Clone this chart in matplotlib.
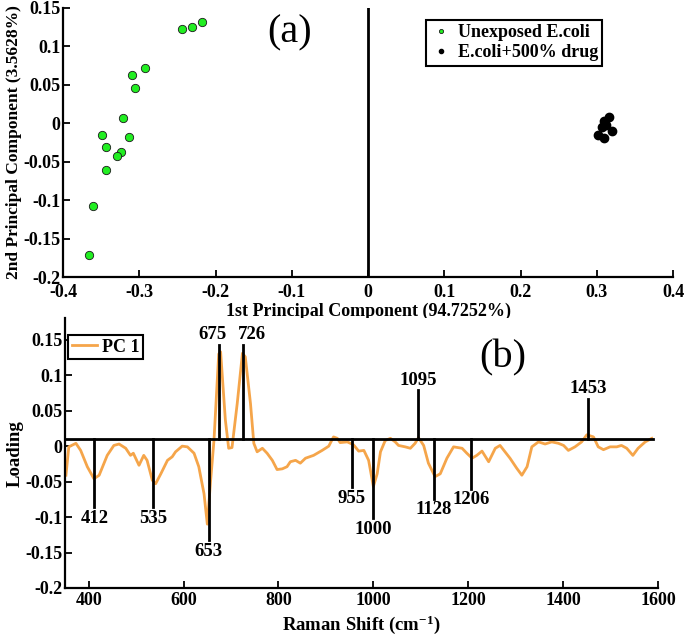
import matplotlib
matplotlib.use("Agg")
import matplotlib.pyplot as plt
import numpy as np

plt.rcParams['font.family'] = ['Liberation Serif', 'DejaVu Serif']
plt.rcParams['font.weight'] = 'bold'
plt.rcParams['mathtext.fontset'] = 'custom'
plt.rcParams['mathtext.rm'] = 'Liberation Serif:bold'
plt.rcParams['mathtext.default'] = 'rm'

# ---------------- data: (a) PCA scores ----------------
unexposed_pc1 = [-0.218, -0.231, -0.244, -0.293, -0.310, -0.306, -0.321, -0.349,
                 -0.314, -0.343, -0.324, -0.329, -0.343, -0.361, -0.366]
unexposed_pc2 = [0.131, 0.125, 0.122, 0.071, 0.062, 0.046, 0.007, -0.016,
                 -0.018, -0.031, -0.037, -0.043, -0.061, -0.108, -0.172]
drug_pc1 = [0.316, 0.309, 0.307, 0.320, 0.302, 0.309, 0.312]
drug_pc2 = [0.008, 0.002, -0.005, -0.011, -0.016, -0.020, -0.002]

# ---------------- data: (b) PC1 loading ----------------
raman_shift = [352, 358, 373, 383, 397, 411, 422, 439, 453, 464, 478, 488, 494, 506,
               516, 523, 534, 541, 552, 566, 576, 583, 597, 608, 622, 632, 643, 650,
               657, 664, 674, 678, 688, 695, 702, 713, 724, 730, 741, 748, 755, 766,
               776, 787, 797, 808, 818, 825, 836, 846, 857, 874, 892, 906, 916, 924,
               930, 945, 958, 969, 980, 990, 1000, 1008, 1015, 1025, 1036, 1046, 1053,
               1067, 1078, 1088, 1095, 1106, 1116, 1130, 1141, 1155, 1169, 1187, 1197,
               1208, 1218, 1229, 1243, 1257, 1267, 1288, 1302, 1313, 1324, 1334, 1348,
               1362, 1376, 1390, 1401, 1411, 1425, 1439, 1450, 1464, 1474, 1485, 1499,
               1513, 1523, 1534, 1547, 1558, 1573, 1587]
pc1_loading = [-0.041, -0.001, 0.004, -0.006, -0.029, -0.046, -0.041, -0.013, 0.001,
               0.003, -0.003, -0.013, -0.010, -0.027, -0.013, -0.020, -0.048, -0.053,
               -0.039, -0.020, -0.015, -0.008, 0.000, -0.001, -0.010, -0.029, -0.067,
               -0.110, -0.048, 0.008, 0.130, 0.133, 0.037, -0.003, -0.002, 0.060,
               0.131, 0.126, 0.060, 0.004, -0.008, -0.003, -0.010, -0.020, -0.033,
               -0.032, -0.029, -0.022, -0.020, -0.024, -0.017, -0.013, -0.006, 0.000,
               0.013, 0.011, 0.005, 0.006, 0.002, -0.007, -0.006, -0.020, -0.057,
               -0.039, -0.008, 0.008, 0.011, 0.006, 0.001, -0.001, -0.003, 0.004,
               0.012, 0.001, -0.024, -0.043, -0.039, -0.017, -0.001, -0.003, -0.010,
               -0.017, -0.013, -0.007, -0.022, -0.003, 0.001, -0.017, -0.031, -0.041,
               -0.029, -0.001, 0.006, 0.003, 0.006, 0.004, 0.001, -0.006, -0.001,
               0.006, 0.016, 0.013, -0.001, -0.005, -0.001, -0.001, 0.001, -0.003,
               -0.013, -0.003, 0.006, 0.011]
peak_positions = [412, 535, 653, 675, 726, 955, 1000, 1095, 1128, 1206, 1453]
peak_ends = [-0.086, -0.086, -0.133, 0.143, 0.143, -0.058, -0.102, 0.079, -0.074,
             -0.060, 0.067]
baseline_level = 0.01
baseline_range = [350, 1590]

a_xticks = [-0.4, -0.3, -0.2, -0.1, 0, 0.1, 0.2, 0.3, 0.4]
a_xticklabels = ['-0.4', '-0.3', '-0.2', '-0.1', '0', '0.1', '0.2', '0.3', '0.4']
a_yticks = [-0.2, -0.15, -0.1, -0.05, 0, 0.05, 0.1, 0.15]
a_yticklabels = ['-0.2', '-0.15', '-0.1', '-0.05', '0', '0.05', '0.1', '0.15']
b_xticks = [400, 600, 800, 1000, 1200, 1400, 1600]
b_xticklabels = ['400', '600', '800', '1000', '1200', '1400', '1600']
b_yticks = a_yticks
b_yticklabels = a_yticklabels

fig = plt.figure(figsize=(6.85, 6.38), dpi=100)
tick_fs = 13
label_fs = 13.5

def style(ax, xpad=3):
    for s in ['top', 'right']:
        ax.spines[s].set_visible(False)
    for s in ['left', 'bottom']:
        ax.spines[s].set_linewidth(1.6)
    ax.tick_params(direction='in', length=5, width=1.3, labelsize=tick_fs, pad=2)
    ax.tick_params(axis='x', pad=xpad)
    for lab in ax.get_xticklabels() + ax.get_yticklabels():
        lab.set_fontweight('bold')

# ---------------- (a) ----------------
ax1 = fig.add_axes([0.092, 0.5658, 0.8905, 0.4224])
ax1.set_xlim(-0.4, 0.4)
ax1.set_ylim(-0.2, 0.15)
ax1.plot([0, 0], [-0.2, 0.15], color='black', lw=2, zorder=1)
ax1.plot(unexposed_pc1, unexposed_pc2, 'o', ms=6, mfc='#22ee22', mec='#1a1a1a',
         mew=0.6, label='Unexposed E.coli', zorder=3)
ax1.plot(drug_pc1, drug_pc2, 'o', ms=6, mfc='black', mec='black',
         label='E.coli+500% drug', zorder=3)
ax1.set_xticks(a_xticks)
ax1.set_xticklabels(a_xticklabels)
ax1.set_yticks(a_yticks)
ax1.set_yticklabels(a_yticklabels)
style(ax1, xpad=5)
ax1.set_xlabel('1st Principal Component (94.7252%)', fontsize=13,
               fontweight='bold', labelpad=1)
ax1.set_ylabel('2nd Principal Component (3.5628%)', fontsize=12.5,
               fontweight='bold', labelpad=1)
leg1 = ax1.legend(loc='upper left', bbox_to_anchor=(0.595, 0.954), borderaxespad=0,
                  markerscale=0.5, handletextpad=0.3, handlelength=1.2,
                  prop={'weight': 'bold', 'size': 13}, fancybox=False,
                  edgecolor='black', framealpha=1, borderpad=0.25, labelspacing=0.15)
leg1.get_frame().set_linewidth(1.5)
ax1.text(0.372, 0.905, '(a)', transform=ax1.transAxes, fontsize=29,
         fontweight='normal', ha='center', va='center')

# ---------------- (b) ----------------
ax2 = fig.add_axes([0.0949, 0.0784, 0.8657, 0.4224])
ax2.set_xlim(350, 1600)
ax2.set_ylim(-0.2, 0.18)
ax2.plot(raman_shift, pc1_loading, color='#f5a54a', lw=2, label='PC 1', zorder=2)
ax2.plot(baseline_range, [baseline_level, baseline_level], color='black', lw=2, zorder=3)
label_dx = {675: -5, 726: 6}
for xp, ye in zip(peak_positions, peak_ends):
    ax2.plot([xp, xp], [baseline_level, ye], color='black', lw=2, zorder=3)
    dx = label_dx.get(xp, 0)
    if ye > baseline_level:
        ax2.annotate(str(xp), (xp, ye), xytext=(dx, 1), textcoords='offset points',
                     ha='center', va='bottom', fontsize=13.5, fontweight='bold')
    else:
        ax2.annotate(str(xp), (xp, ye), xytext=(dx, -2), textcoords='offset points',
                     ha='center', va='top', fontsize=13.5, fontweight='bold')
ax2.set_xticks(b_xticks)
ax2.set_xticklabels(b_xticklabels)
ax2.set_yticks(b_yticks)
ax2.set_yticklabels(b_yticklabels)
style(ax2)
ax2.set_xlabel('Raman Shift (cm$^{-1}$)', fontsize=label_fs, fontweight='bold',
               labelpad=3)
ax2.set_ylabel('Loading', fontsize=label_fs, fontweight='bold', labelpad=1)
leg2 = ax2.legend(loc='upper left', bbox_to_anchor=(0.005, 0.939), borderaxespad=0,
                  handlelength=1.4, handletextpad=0.3,
                  prop={'weight': 'bold', 'size': 13}, fancybox=False,
                  edgecolor='black', framealpha=1, borderpad=0.2)
leg2.get_frame().set_linewidth(1.5)
ax2.text(0.739, 0.853, '(b)', transform=ax2.transAxes, fontsize=29,
         fontweight='normal', ha='center', va='center')

fig.savefig('out.png', dpi=100)
